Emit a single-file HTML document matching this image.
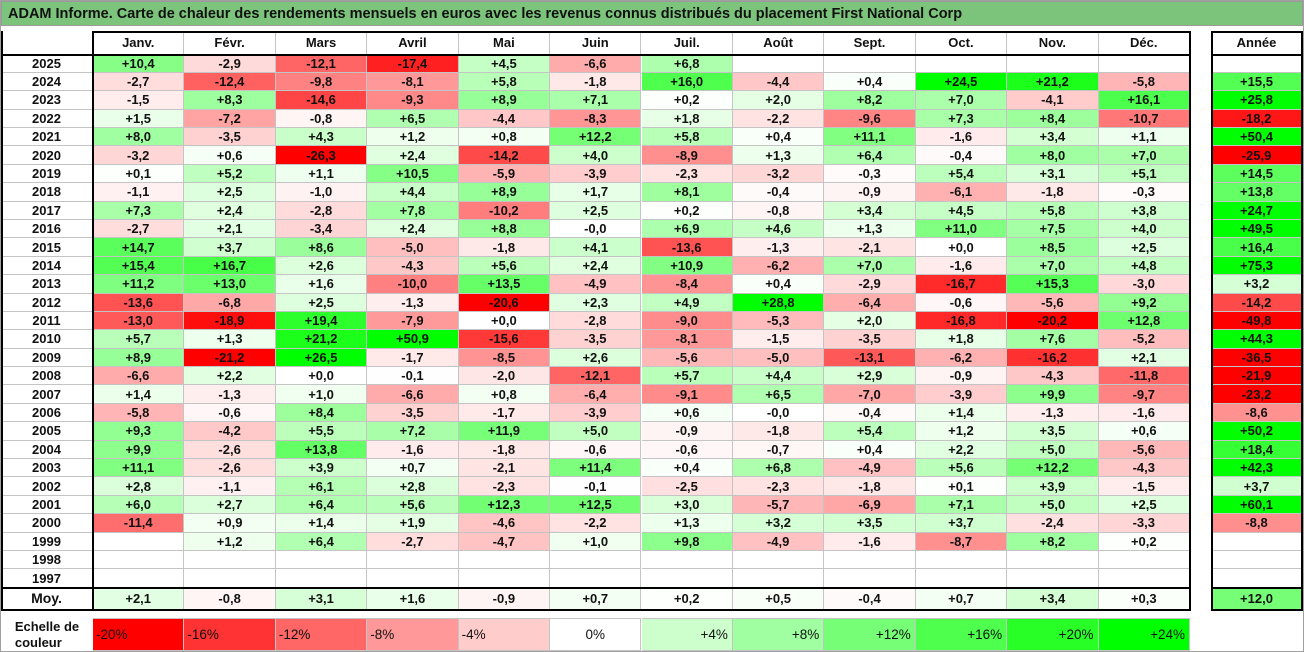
<!DOCTYPE html>
<html><head><meta charset="utf-8">
<style>
body{margin:0;width:1304px;height:652px;overflow:hidden;background:#fff;font-family:"Liberation Sans",sans-serif;}
#root{position:relative;width:1302px;height:650px;border:1px solid #a0a0a0;}
.t{position:absolute;box-sizing:border-box;font-weight:bold;font-size:13px;color:#111;display:flex;align-items:center;justify-content:center;white-space:nowrap;}
.c{border-right:1px solid #c4c4c4;border-bottom:1px solid #c4c4c4;}
.ln{position:absolute;background:#000;}
</style></head><body>
<div id="root">
<div class="t" style="left:0;top:0;width:1302px;height:25px;background:#7cc47c;border:1px solid #9a9a9a;justify-content:flex-start;padding-left:6px;font-size:14.5px;">ADAM Informe. Carte de chaleur des rendements mensuels en euros avec les revenus connus distribués du placement First National Corp</div>
</div>
<script>
const months=["Janv.","Févr.","Mars","Avril","Mai","Juin","Juil.","Août","Sept.","Oct.","Nov.","Déc."];
const years=[2025,2024,2023,2022,2021,2020,2019,2018,2017,2016,2015,2014,2013,2012,2011,2010,2009,2008,2007,2006,2005,2004,2003,2002,2001,2000,1999,1998,1997];
const N=null;
const monthly=[
[10.4,-2.9,-12.1,-17.4,4.5,-6.6,6.8,N,N,N,N,N],
[-2.7,-12.4,-9.8,-8.1,5.8,-1.8,16.0,-4.4,0.4,24.5,21.2,-5.8],
[-1.5,8.3,-14.6,-9.3,8.9,7.1,0.2,2.0,8.2,7.0,-4.1,16.1],
[1.5,-7.2,-0.8,6.5,-4.4,-8.3,1.8,-2.2,-9.6,7.3,8.4,-10.7],
[8.0,-3.5,4.3,1.2,0.8,12.2,5.8,0.4,11.1,-1.6,3.4,1.1],
[-3.2,0.6,-26.3,2.4,-14.2,4.0,-8.9,1.3,6.4,-0.4,8.0,7.0],
[0.1,5.2,1.1,10.5,-5.9,-3.9,-2.3,-3.2,-0.3,5.4,3.1,5.1],
[-1.1,2.5,-1.0,4.4,8.9,1.7,8.1,-0.4,-0.9,-6.1,-1.8,-0.3],
[7.3,2.4,-2.8,7.8,-10.2,2.5,0.2,-0.8,3.4,4.5,5.8,3.8],
[-2.7,2.1,-3.4,2.4,8.8,-0,6.9,4.6,1.3,11.0,7.5,4.0],
[14.7,3.7,8.6,-5.0,-1.8,4.1,-13.6,-1.3,-2.1,0.0,8.5,2.5],
[15.4,16.7,2.6,-4.3,5.6,2.4,10.9,-6.2,7.0,-1.6,7.0,4.8],
[11.2,13.0,1.6,-10.0,13.5,-4.9,-8.4,0.4,-2.9,-16.7,15.3,-3.0],
[-13.6,-6.8,2.5,-1.3,-20.6,2.3,4.9,28.8,-6.4,-0.6,-5.6,9.2],
[-13.0,-18.9,19.4,-7.9,0.0,-2.8,-9.0,-5.3,2.0,-16.8,-20.2,12.8],
[5.7,1.3,21.2,50.9,-15.6,-3.5,-8.1,-1.5,-3.5,1.8,7.6,-5.2],
[8.9,-21.2,26.5,-1.7,-8.5,2.6,-5.6,-5.0,-13.1,-6.2,-16.2,2.1],
[-6.6,2.2,0.0,-0.1,-2.0,-12.1,5.7,4.4,2.9,-0.9,-4.3,-11.8],
[1.4,-1.3,1.0,-6.6,0.8,-6.4,-9.1,6.5,-7.0,-3.9,9.9,-9.7],
[-5.8,-0.6,8.4,-3.5,-1.7,-3.9,0.6,-0,-0.4,1.4,-1.3,-1.6],
[9.3,-4.2,5.5,7.2,11.9,5.0,-0.9,-1.8,5.4,1.2,3.5,0.6],
[9.9,-2.6,13.8,-1.6,-1.8,-0.6,-0.6,-0.7,0.4,2.2,5.0,-5.6],
[11.1,-2.6,3.9,0.7,-2.1,11.4,0.4,6.8,-4.9,5.6,12.2,-4.3],
[2.8,-1.1,6.1,2.8,-2.3,-0.1,-2.5,-2.3,-1.8,0.1,3.9,-1.5],
[6.0,2.7,6.4,5.6,12.3,12.5,3.0,-5.7,-6.9,7.1,5.0,2.5],
[-11.4,0.9,1.4,1.9,-4.6,-2.2,1.3,3.2,3.5,3.7,-2.4,-3.3],
[N,1.2,6.4,-2.7,-4.7,1.0,9.8,-4.9,-1.6,-8.7,8.2,0.2],
[N,N,N,N,N,N,N,N,N,N,N,N],
[N,N,N,N,N,N,N,N,N,N,N,N]];
const annual=[N,15.5,25.8,-18.2,50.4,-25.9,14.5,13.8,24.7,49.5,16.4,75.3,3.2,-14.2,-49.8,44.3,-36.5,-21.9,-23.2,-8.6,50.2,18.4,42.3,3.7,60.1,-8.8,N,N,N];
const averages=[2.1,-0.8,3.1,1.6,-0.9,0.7,0.2,0.5,-0.4,0.7,3.4,0.3];
const annualAverage=12.0;
const scaleLabels=["-20%","-16%","-12%","-8%","-4%","0%","+4%","+8%","+12%","+16%","+20%","+24%"];
const scaleValues=[-20,-16,-12,-8,-4,0,4,8,12,16,20,24];

const root=document.getElementById('root');
const X0=92,CW=(1189-92)/12,Y0=53.5,RH=(586.7-53.5)/29,AX=1211,AW=90;
function colX(i){return X0+i*CW;}
function rowY(r){return Y0+r*RH;}
function color(v){
 if(v===null)return '#fff';
 let t;
 if(v<0){t=Math.min(1,-v/20);const k=Math.round(255*(1-t));return `rgb(255,${k},${k})`;}
 t=Math.min(1,v/24);t=Math.pow(t,0.9);const k=Math.round(255*(1-t));return `rgb(${k},255,${k})`;
}
function fmt(v){
 if(v===null)return '';
 const neg=v<0||Object.is(v,-0);
 return (neg?'-':'+')+Math.abs(v).toFixed(1).replace('.',',');
}
function cell(x,y,w,h,txt,bg,name,extra){
 const d=document.createElement('div');
 d.className='t c';
 d.style.cssText=`left:${x}px;top:${y}px;width:${w}px;height:${h}px;background:${bg};`+(extra||'');
 d.textContent=txt;
 
 
 root.appendChild(d);return d;
}
function line(x,y,w,h){
 const d=document.createElement('div');d.className='ln';
 d.style.cssText=`left:${x}px;top:${y}px;width:${w}px;height:${h}px;`;
 
 
 root.appendChild(d);
}
months.forEach((m,i)=>cell(colX(i),31,CW,Y0-31,m,'#fff','month-header'));
cell(AX,31,AW,Y0-31,'Année','#fff','year-total-header');
years.forEach((y,r)=>{
 cell(0,rowY(r),X0,RH,String(y),'#fff','year-label');
 monthly[r].forEach((v,i)=>cell(colX(i),rowY(r),CW,RH,fmt(v),color(v),'heatmap-cell'));
 cell(AX,rowY(r),AW,RH,fmt(annual[r]),color(annual[r]),'annual-cell');
});
const MY=rowY(29),MH=609-MY;
cell(0,MY,X0,MH,'Moy.','#fff','average-label',"font-size:14px;");
averages.forEach((v,i)=>cell(colX(i),MY,CW,MH,fmt(v),color(v),'average-cell'));
cell(AX,MY,AW,MH,fmt(annualAverage),color(annualAverage),'annual-average-cell');
const lg=cell(0,617,X0,33,'','#fff','color-scale-label',"flex-direction:column;font-size:13px;line-height:16px;border:none;");
lg.innerHTML='Echelle de<br>couleur';
scaleValues.forEach((v,i)=>{
 const al=i<5?'justify-content:flex-start;padding-left:3px;':(i===5?'':'justify-content:flex-end;padding-right:4px;');
 cell(colX(i),617,CW,33,scaleLabels[i],color(v),'color-scale-swatch',al+'font-weight:normal;font-size:13.5px;border:1px solid #c4c4c4;border-left:none;');
});
line(X0,30,1189-X0+1,2);line(0,Y0-1,1190,2);line(0,MY-1,1190,2);line(0,608,1190,2);
line(0,30,2,580);line(X0-1,30,2,580);line(1188,30,2,580);
line(AX,30,AW+1,2);line(AX,Y0-1,AW+1,2);line(AX,MY-1,AW+1,2);line(AX,608,AW+1,2);
line(AX-1,30,2,580);line(AX+AW-1,30,2,580);
</script>
</body></html>
